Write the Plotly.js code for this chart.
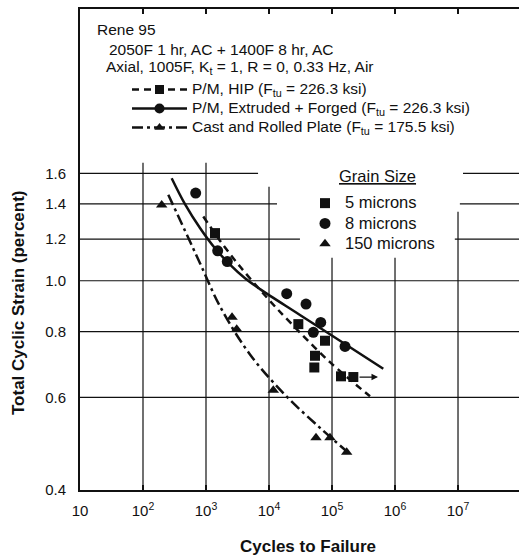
<!DOCTYPE html>
<html><head><meta charset="utf-8">
<script src="https://cdn.plot.ly/plotly-3.0.1.min.js"></script>
<style>html,body{margin:0;padding:0;background:#fff;} #chart{width:519px;height:557px;}</style>
</head><body><div id="chart"></div>
<script>
// ---------- data ----------
// grain-size test points: cycles to failure and total cyclic strain (percent)
const hipN        = [1390, 29200, 77400, 53700, 52400, 139000, 218000];
const hipStrain   = [1.232, 0.827, 0.769, 0.720, 0.684, 0.658, 0.656];
const efN         = [686, 1533, 2178, 19100, 38700, 66200, 50500, 161000];
const efStrain    = [1.468, 1.140, 1.088, 0.945, 0.903, 0.833, 0.798, 0.750];
const castN       = [198, 2590, 3070, 11700, 55700, 92900, 171000];
const castStrain  = [1.394, 0.852, 0.809, 0.619, 0.503, 0.503, 0.472];

// fitted curves
const hipCurveN       = [906, 1668, 3470, 9640, 21500, 92900, 401000];
const hipCurveStrain  = [1.325, 1.192, 1.064, 0.924, 0.834, 0.700, 0.603];
const efCurveN        = [285, 464, 803, 1389, 2404, 4160, 7200, 31000, 160700, 651000];
const efCurveStrain   = [1.567, 1.399, 1.260, 1.153, 1.073, 1.011, 0.964, 0.861, 0.758, 0.680];
const castCurveN      = [252, 464, 803, 1668, 4990, 17900, 64600, 181600];
const castCurveStrain = [1.457, 1.245, 1.080, 0.894, 0.724, 0.607, 0.525, 0.471];

// run-out arrow (specimen did not fail)
const runoutN = [259000, 537000];
const runoutStrain = [0.656, 0.656];

// ticks
const cycleTicks  = [10, 100, 1000, 10000, 100000, 1000000, 10000000];
const cycleLabels = ['10', '10<sup>2</sup>', '10<sup>3</sup>', '10<sup>4</sup>', '10<sup>5</sup>', '10<sup>6</sup>', '10<sup>7</sup>'];
const strainTicks  = [0.4, 0.6, 0.8, 1.0, 1.2, 1.4, 1.6];
const strainLabels = ['0.4', '0.6', '0.8', '1.0', '1.2', '1.4', '1.6'];

// legend texts
const seriesNames = [
  'P/M, HIP (F<sub>tu</sub> = 226.3 ksi)',
  'P/M, Extruded + Forged (F<sub>tu</sub> = 226.3 ksi)',
  'Cast and Rolled Plate (F<sub>tu</sub> = 175.5 ksi)'
];
const grainNames = ['5 microns', '8 microns', '150 microns'];
const headerLines = [
  'Rene 95',
  '2050F 1 hr, AC + 1400F 8 hr, AC',
  'Axial, 1005F, K<sub>t</sub> = 1, R = 0, 0.33 Hz, Air'
];

// ---------- styling ----------
const FONT = 'Liberation Sans, Arial, Helvetica, sans-serif';
const INK = '#111';
const dashes = ['7px,5px', 'solid', '11px,4px,3px,4px'];
const symbols = ['square', 'circle', 'triangle-up'];

const traces = [];
// curves
[[hipCurveN, hipCurveStrain], [efCurveN, efCurveStrain], [castCurveN, castCurveStrain]].forEach((c, i) => {
  traces.push({
    type: 'scatter', mode: 'lines', x: c[0], y: c[1], showlegend: false, hoverinfo: 'skip',
    line: {color: INK, width: 2.5, dash: dashes[i], shape: 'spline', smoothing: 1}
  });
});
// legend keys for the curves (line style + symbol)
seriesNames.forEach((nm, i) => {
  traces.push({
    type: 'scatter', mode: 'lines+markers', x: [null], y: [null], legend: 'legend',
    name: '<span style="font-size:15.5px">' + nm + '</span>',
    line: {color: INK, width: 2.5, dash: dashes[i]},
    marker: {symbol: symbols[i], size: i === 1 ? 10 : 9, color: INK}
  });
});
// test points
[[hipN, hipStrain], [efN, efStrain], [castN, castStrain]].forEach((p, i) => {
  traces.push({
    type: 'scatter', mode: 'markers', x: p[0], y: p[1], legend: 'legend2',
    name: '<span style="font-size:16.5px">' + grainNames[i] + '</span>',
    marker: {symbol: symbols[i], size: i === 1 ? 11 : 10, color: INK, line: {width: 0}}
  });
});

// partial grid lines (layout decoration, in data units)
const shapes = [];
const hSegs = [
  [1.6, 10, 6700], [1.6, 1.2e7, 1e8],
  [1.4, 10, 13400], [1.4, 1.07e7, 1e8],
  [1.2, 10, 31000], [1.2, 8.9e6, 1e8],
  [1.0, 10, 1e8], [0.8, 10, 1e8], [0.6, 10, 1e8]
];
hSegs.forEach(s => shapes.push({type: 'line', xref: 'x', yref: 'y', layer: 'below',
  x0: s[1], x1: s[2], y0: s[0], y1: s[0], line: {color: INK, width: 1.2}}));
const vSegs = [[100, 1.676], [1000, 1.676], [10000, 1.509], [100000, 1.106], [1000000, 1.106], [10000000, 1.353]];
vSegs.forEach(s => shapes.push({type: 'line', xref: 'x', yref: 'y', layer: 'below',
  x0: s[0], x1: s[0], y0: 0.4, y1: s[1], line: {color: INK, width: 1.2}}));

// annotations
const px = v => (v - 80) / 439;       // pixel x -> paper
const py = v => (490 - v) / 481;      // pixel y -> paper
const annotations = [];
const headerPos = [[95, 30], [107, 49], [104, 68]];
headerLines.forEach((t, i) => annotations.push({
  xref: 'paper', yref: 'paper', x: px(headerPos[i][0]), y: py(headerPos[i][1]),
  xanchor: 'left', yanchor: 'middle', showarrow: false, text: t,
  font: {family: FONT, size: 15.5, color: INK}
}));
annotations.push({
  xref: 'paper', yref: 'paper', x: px(377), y: py(176), xanchor: 'center', yanchor: 'middle',
  showarrow: false, text: '<u>Grain Size</u>', font: {family: FONT, size: 16.5, color: INK}
});
annotations.push({
  xref: 'paper', yref: 'paper', x: px(308), y: py(546), xanchor: 'center', yanchor: 'middle',
  showarrow: false, text: '<b>Cycles to Failure</b>', font: {family: FONT, size: 17, color: INK}
});
annotations.push({
  xref: 'paper', yref: 'paper', x: px(19), y: py(303), xanchor: 'center', yanchor: 'middle',
  textangle: -90, showarrow: false, text: '<b>Total Cyclic Strain (percent)</b>',
  font: {family: FONT, size: 17, color: INK}
});
annotations.push({
  xref: 'x', yref: 'y', axref: 'x', ayref: 'y',
  x: Math.log10(runoutN[1]), y: Math.log10(runoutStrain[1]),
  ax: Math.log10(runoutN[0]), ay: Math.log10(runoutStrain[0]),
  text: '', showarrow: true, arrowhead: 2, arrowsize: 1, arrowwidth: 1.3, arrowcolor: INK
});

const layout = {
  width: 519, height: 557,
  margin: {l: 80, r: 0, t: 9, b: 67, pad: 0},
  paper_bgcolor: '#fff', plot_bgcolor: '#fff',
  font: {family: FONT, color: INK},
  showlegend: true,
  xaxis: {
    type: 'log', range: [1, 7.968], tickvals: cycleTicks, ticktext: cycleLabels,
    ticks: 'inside', ticklen: 5, tickwidth: 1.5, tickcolor: INK,
    showline: true, linewidth: 2, linecolor: INK, mirror: 'ticks',
    showgrid: false, zeroline: false, ticklabelstandoff: 6,
    tickfont: {family: FONT, size: 15, color: INK}
  },
  yaxis: {
    type: 'log', range: [Math.log10(0.4), 0.5168], tickvals: strainTicks, ticktext: strainLabels,
    ticks: '', showline: true, linewidth: 2, linecolor: INK, mirror: false,
    showgrid: false, zeroline: false, ticklabelstandoff: 9,
    tickfont: {family: FONT, size: 15, color: INK}
  },
  legend: {
    x: px(127), y: py(75), xanchor: 'left', yanchor: 'top',
    bgcolor: 'rgba(0,0,0,0)', borderwidth: 0, itemwidth: 55,
    font: {family: FONT, size: 11, color: INK}, tracegroupgap: 0
  },
  legend2: {
    x: px(305), y: py(188), xanchor: 'left', yanchor: 'top',
    bgcolor: 'rgba(0,0,0,0)', borderwidth: 0, itemwidth: 30,
    font: {family: FONT, size: 13.3, color: INK}, tracegroupgap: 0
  },
  shapes: shapes,
  annotations: annotations
};

Plotly.newPlot('chart', traces, layout, {displayModeBar: false, staticPlot: true});
</script></body></html>
